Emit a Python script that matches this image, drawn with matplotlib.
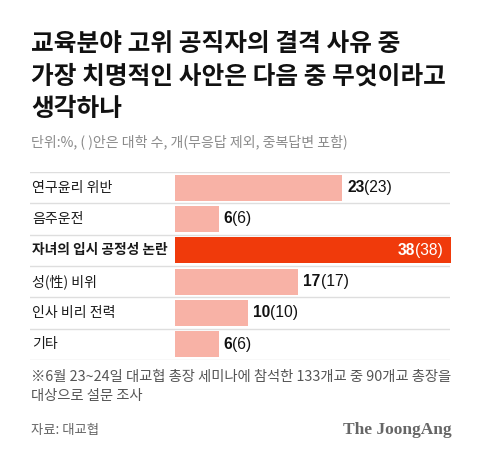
import matplotlib
matplotlib.use("Agg")
import matplotlib.pyplot as plt
from matplotlib.transforms import blended_transform_factory

plt.rcParams['font.family'] = ['Noto Sans CJK KR', 'DejaVu Sans']

categories = ["연구윤리 위반", "음주운전", "자녀의 입시 공정성 논란", "성(性) 비위", "인사 비리 전력", "기타"]
values = [23, 6, 38, 17, 10, 6]
counts = [23, 6, 38, 17, 10, 6]
highlight = 2

title_lines = ["교육분야 고위 공직자의 결격 사유 중", "가장 치명적인 사안은 다음 중 무엇이라고", "생각하나"]
subtitle = "단위:%, ( )안은 대학 수, 개(무응답 제외, 중복답변 포함)"
note_lines = ["※6월 23~24일 대교협 총장 세미나에 참석한 133개교 중 90개교 총장을", "대상으로 설문 조사"]
source = "자료: 대교협"
brand = "The JoongAng"

W, H = 480, 458
fig = plt.figure(figsize=(W / 100, H / 100), dpi=100)
fig.patch.set_facecolor("white")
renderer = fig.canvas.get_renderer()


def fx(x):
    return x / W


def fy(y):
    return 1 - y / H


def fit_size(text, target_px, **kw):
    """Return a font size so that `text` is about target_px wide."""
    t = fig.text(0, 0, text, fontsize=10, **kw)
    w = t.get_window_extent(renderer).width
    t.remove()
    return 10 * target_px / w


# title
title_fs = fit_size(title_lines[1], 413, fontweight='black')
for i, line in enumerate(title_lines):
    fig.text(fx(31), fy(44 + i * 32.5), line, fontsize=title_fs, fontweight='black',
             color="#111111", va='center', ha='left')
sub_fs = fit_size(subtitle, 316)
fig.text(fx(31), fy(142), subtitle, fontsize=sub_fs, color="#8a8a8a", va='center', ha='left')

# axes for bars
ax_left, ax_right = 30, 450
ax_top, ax_bot = 172, 360
ax = fig.add_axes([fx(ax_left), fy(ax_bot), (ax_right - ax_left) / W, (ax_bot - ax_top) / H])
ax.set_facecolor("none")
scale = 276 / 38.0  # px per unit
bar_start = 175
ax.set_xlim(-(bar_start - ax_left) / scale, (ax_right - bar_start) / scale)
n = len(categories)
ax.set_ylim(n - 0.5, -0.5)
ax.axis('off')

light = "#f8b2a6"
strong = "#f03a0b"
colors = [strong if i == highlight else light for i in range(n)]
ys = list(range(n))
ax.barh(ys, values, height=0.83, color=colors, clip_on=False, zorder=2)

for k in range(n + 1):
    ax.axhline(k - 0.5, color="#dedede", lw=1.0, zorder=1)

label_fs = fit_size(categories[0], 80, fontweight='medium')
label_bold_fs = min(label_fs, fit_size(categories[highlight], 136, fontweight='bold'))
num_fs = fit_size("23(23)", 46, family=['Liberation Sans'], fontweight='bold') * 0.98

tr = blended_transform_factory(ax.transAxes, ax.transData)
for i, (cat, v, c) in enumerate(zip(categories, values, counts)):
    ax.text((32 - ax_left) / (ax_right - ax_left), i, cat, transform=tr,
            fontsize=label_bold_fs if i == highlight else label_fs,
            fontweight='bold' if i == highlight else 'medium',
            color="#1a1a1a", va='center', ha='left')
    if i == highlight:
        t2 = ax.text(v - 8 / scale, i, f"({c})", fontsize=num_fs, color="white",
                     va='center', ha='right', family=['Liberation Sans'], zorder=3)
        ax.annotate(f"{v}", xy=(0, 0), xycoords=t2, fontsize=num_fs, fontweight='bold',
                    color="white", va='bottom', ha='right', family=['Liberation Sans'], zorder=3)
    else:
        t1 = ax.text(v + 5 / scale, i, f"{v}", fontsize=num_fs, fontweight='bold',
                     color="#111111", va='center', ha='left', family=['Liberation Sans'], zorder=3)
        ax.annotate(f"({c})", xy=(1, 0), xycoords=t1, fontsize=num_fs, color="#111111",
                    va='bottom', ha='left', family=['Liberation Sans'], zorder=3)

note_fs = fit_size(note_lines[0], 420)
for i, line in enumerate(note_lines):
    fig.text(fx(31), fy(377 + i * 19), line, fontsize=note_fs, color="#555555", va='center', ha='left')

src_fs = fit_size(source, 68)
fig.text(fx(31), fy(430), source, fontsize=src_fs, color="#666666", va='center', ha='left')
brand_fs = fit_size(brand, 109, fontweight='bold', family=['Liberation Serif'])
fig.text(fx(452), fy(430), brand, fontsize=brand_fs, fontweight='bold', color="#666666",
         va='center', ha='right', family=['Liberation Serif'])

fig.savefig("out.png", dpi=100, facecolor="white")
